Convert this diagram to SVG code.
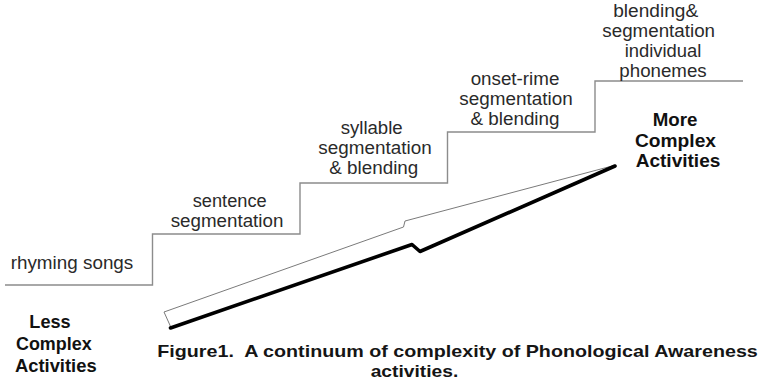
<svg xmlns="http://www.w3.org/2000/svg" width="763" height="382" viewBox="0 0 763 382">
<style>
.step{fill:none;stroke:#8c8c8c;stroke-width:1.4}
.lbl{font-family:"Liberation Sans",Arial,sans-serif;font-size:17.5px;fill:#2a2a2a;text-anchor:middle}
.bold{font-family:"Liberation Sans",Arial,sans-serif;font-size:17.5px;font-weight:bold;fill:#111;text-anchor:middle}
.cap{font-family:"Liberation Sans",Arial,sans-serif;font-size:17px;font-weight:bold;fill:#151515}
</style>
<rect width="763" height="382" fill="#fff"/>
<g id="connectors">
  <path id="staircase" class="step" d="M5,285 H152.5 V234 H300 V183 H447.5 V132 H595 V81 H743"/>
  <g id="arrow">
    <polygon points="164,312 403.5,227 405,221 614,165.5 420,251 412,244 171,327.5" fill="#fff" stroke="#7a7a7a" stroke-width="1"/>
    <polyline points="170.5,328 412,244.5 420,251.5 615,166" fill="none" stroke="#000" stroke-width="3.6" stroke-linejoin="round" stroke-linecap="round"/>
  </g>
</g>
<g id="node-rhyming">
  <text class="lbl" x="72" y="269" textLength="122.6" lengthAdjust="spacingAndGlyphs">rhyming songs</text>
</g>
<g id="node-sentence">
  <text class="lbl" x="229.7" y="206.7" textLength="74" lengthAdjust="spacingAndGlyphs">sentence</text>
  <text class="lbl" x="227" y="226.7" textLength="112.7" lengthAdjust="spacingAndGlyphs">segmentation</text>
</g>
<g id="node-syllable">
  <text class="lbl" x="371.7" y="134" textLength="62" lengthAdjust="spacingAndGlyphs">syllable</text>
  <text class="lbl" x="375" y="154" textLength="113.3" lengthAdjust="spacingAndGlyphs">segmentation</text>
  <text class="lbl" x="373.8" y="174" textLength="89" lengthAdjust="spacingAndGlyphs">&amp; blending</text>
</g>
<g id="node-onset">
  <text class="lbl" x="515" y="85" textLength="88.7" lengthAdjust="spacingAndGlyphs">onset-rime</text>
  <text class="lbl" x="516" y="105" textLength="113.3" lengthAdjust="spacingAndGlyphs">segmentation</text>
  <text class="lbl" x="515" y="125" textLength="89" lengthAdjust="spacingAndGlyphs">&amp; blending</text>
</g>
<g id="node-phonemes">
  <text class="lbl" x="655.7" y="17.3" textLength="85" lengthAdjust="spacingAndGlyphs">blending&amp;</text>
  <text class="lbl" x="658.7" y="36.5" textLength="112.7" lengthAdjust="spacingAndGlyphs">segmentation</text>
  <text class="lbl" x="663" y="57" textLength="76.7" lengthAdjust="spacingAndGlyphs">individual</text>
  <text class="lbl" x="663" y="77.3" textLength="87.3" lengthAdjust="spacingAndGlyphs">phonemes</text>
</g>
<g id="node-more">
  <text class="bold" x="675" y="126" textLength="44.7" lengthAdjust="spacingAndGlyphs">More</text>
  <text class="bold" x="675.5" y="146.7" textLength="81" lengthAdjust="spacingAndGlyphs">Complex</text>
  <text class="bold" x="678" y="167" textLength="84.7" lengthAdjust="spacingAndGlyphs">Activities</text>
</g>
<g id="node-less">
  <text class="bold" x="50" y="328.3" textLength="41.3" lengthAdjust="spacingAndGlyphs">Less</text>
  <text class="bold" x="53.8" y="350" textLength="75.7" lengthAdjust="spacingAndGlyphs">Complex</text>
  <text class="bold" x="55.8" y="371.5" textLength="81.7" lengthAdjust="spacingAndGlyphs">Activities</text>
</g>
<g id="caption">
  <text class="cap" x="157.3" y="357" textLength="600.5" lengthAdjust="spacingAndGlyphs" xml:space="preserve">Figure1.  A continuum of complexity of Phonological Awareness</text>
  <text class="cap" x="370.7" y="376.7" textLength="87.6" lengthAdjust="spacingAndGlyphs">activities.</text>
</g>
</svg>
